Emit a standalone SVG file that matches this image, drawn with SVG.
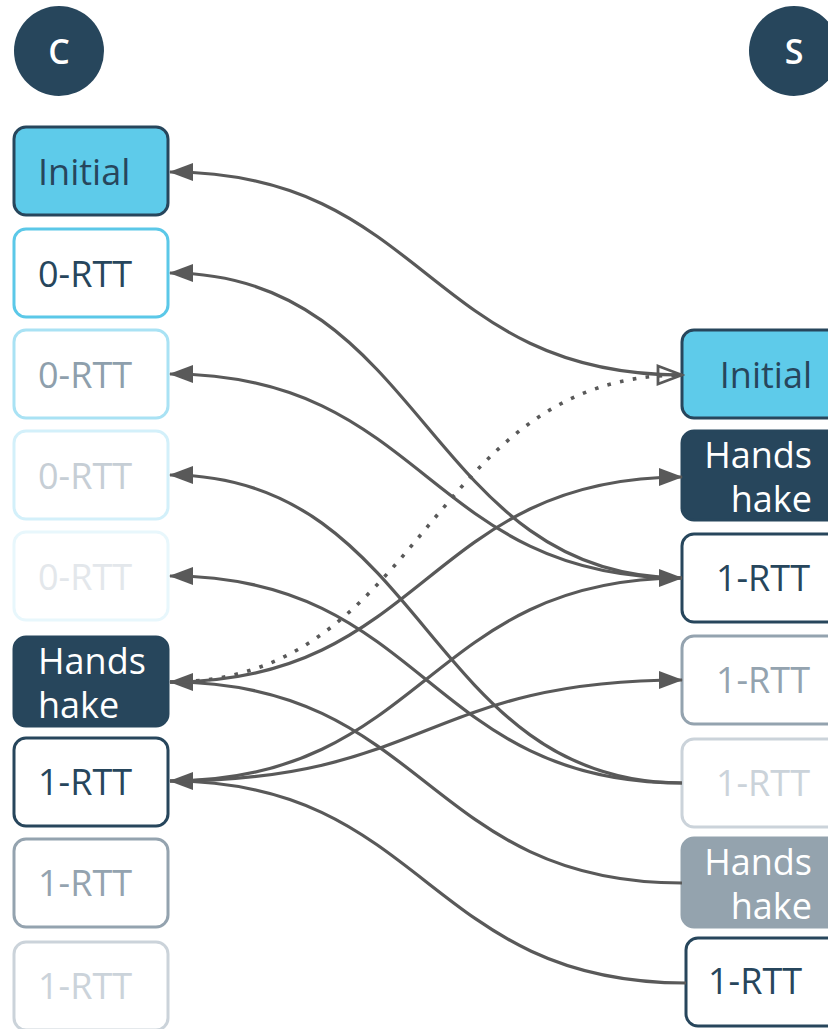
<svg xmlns="http://www.w3.org/2000/svg" width="828" height="1029" viewBox="0 0 828 1029">
  <style>
    .lbl { font-family: "Open Sans", "Noto Sans", sans-serif; font-size: 36px; }
    .ep { font-family: "Open Sans", "Noto Sans", sans-serif; font-size: 34px; font-weight: 600; fill: #ffffff; text-anchor: middle; }
    .box { stroke-width: 3; }
    .end { text-anchor: end; }
    .wire { fill: none; stroke: #595959; stroke-width: 3.2; }
    .dots { stroke-width: 3.6; stroke-dasharray: 3.6 9.4; }
  </style>
  <defs>
    <marker id="arrow" markerUnits="userSpaceOnUse" markerWidth="24" markerHeight="18" viewBox="0 0 24 18" refX="23" refY="9" orient="auto-start-reverse">
      <path d="M0,0 L24,9 L0,18 z" fill="#595959"/>
    </marker>
    <marker id="arrow-open" markerUnits="userSpaceOnUse" markerWidth="30" markerHeight="24" viewBox="0 0 30 24" refX="27" refY="12" orient="auto">
      <path d="M3,3 L27,12 L3,21 z" fill="none" stroke="#595959" stroke-width="2.8"/>
    </marker>
  </defs>

  <!-- endpoints -->
  <g id="client">
    <circle cx="59" cy="51" r="45" fill="#27465C"/>
    <text class="ep" x="59" y="64">C</text>
  </g>
  <g id="server">
    <circle cx="794" cy="51" r="45" fill="#27465C"/>
    <text class="ep" x="794" y="64">S</text>
  </g>

  <!-- client packets -->
  <g id="c-initial">
    <rect class="box" x="14" y="127" width="154" height="88" rx="12" fill="#5ECBEA" stroke="#27465C"/>
    <text class="lbl" x="38" y="185" fill="#27465C">Initial</text>
  </g>
  <g id="c-0rtt-1">
    <rect class="box" x="14" y="229" width="154" height="88" rx="12" fill="#ffffff" stroke="#5BC8E8"/>
    <text class="lbl" x="38" y="287" fill="#27465C">0-RTT</text>
  </g>
  <g id="c-0rtt-2">
    <rect class="box" x="14" y="330" width="154" height="88" rx="12" fill="#ffffff" stroke="#A9E2F4"/>
    <text class="lbl" x="38" y="388" fill="#8E9FAC">0-RTT</text>
  </g>
  <g id="c-0rtt-3">
    <rect class="box" x="14" y="431" width="154" height="88" rx="12" fill="#ffffff" stroke="#D3F0FA"/>
    <text class="lbl" x="38" y="489" fill="#C6CED5">0-RTT</text>
  </g>
  <g id="c-0rtt-4">
    <rect class="box" x="14" y="532" width="154" height="88" rx="12" fill="#ffffff" stroke="#E8F7FC"/>
    <text class="lbl" x="38" y="590" fill="#E3E7EB">0-RTT</text>
  </g>
  <g id="c-handshake">
    <rect class="box" x="14" y="637" width="154" height="89" rx="12" fill="#27465C" stroke="#27465C"/>
    <text class="lbl" x="38" y="674" fill="#ffffff">Hands</text>
    <text class="lbl" x="38" y="718" fill="#ffffff">hake</text>
  </g>
  <g id="c-1rtt-1">
    <rect class="box" x="14" y="738" width="154" height="88" rx="12" fill="#ffffff" stroke="#27465C"/>
    <text class="lbl" x="38" y="795" fill="#27465C">1-RTT</text>
  </g>
  <g id="c-1rtt-2">
    <rect class="box" x="14" y="839" width="154" height="88" rx="12" fill="#ffffff" stroke="#94A3AF"/>
    <text class="lbl" x="38" y="896" fill="#94A3AF">1-RTT</text>
  </g>
  <g id="c-1rtt-3">
    <rect class="box" x="14" y="942" width="154" height="88" rx="12" fill="#ffffff" stroke="#CBD3DA"/>
    <text class="lbl" x="38" y="999" fill="#CBD3DA">1-RTT</text>
  </g>

  <!-- server packets -->
  <g id="s-initial">
    <rect class="box" x="682" y="330" width="160" height="88" rx="12" fill="#5ECBEA" stroke="#27465C"/>
    <text class="lbl end" x="812" y="388" fill="#27465C">Initial</text>
  </g>
  <g id="s-handshake-1">
    <rect class="box" x="682" y="431" width="160" height="89" rx="12" fill="#27465C" stroke="#27465C"/>
    <text class="lbl end" x="812" y="468" fill="#ffffff">Hands</text>
    <text class="lbl end" x="812" y="512" fill="#ffffff">hake</text>
  </g>
  <g id="s-1rtt-1">
    <rect class="box" x="682" y="534" width="160" height="88" rx="12" fill="#ffffff" stroke="#27465C"/>
    <text class="lbl end" x="810" y="591" fill="#27465C">1-RTT</text>
  </g>
  <g id="s-1rtt-2">
    <rect class="box" x="682" y="636" width="160" height="88" rx="12" fill="#ffffff" stroke="#94A3AF"/>
    <text class="lbl end" x="810" y="693" fill="#94A3AF">1-RTT</text>
  </g>
  <g id="s-1rtt-3">
    <rect class="box" x="682" y="739" width="160" height="88" rx="12" fill="#ffffff" stroke="#CBD3DA"/>
    <text class="lbl end" x="810" y="796" fill="#CBD3DA">1-RTT</text>
  </g>
  <g id="s-handshake-2">
    <rect class="box" x="682" y="838" width="160" height="89" rx="12" fill="#94A3AE" stroke="#94A3AE"/>
    <text class="lbl end" x="812" y="875" fill="#ffffff">Hands</text>
    <text class="lbl end" x="812" y="919" fill="#ffffff">hake</text>
  </g>
  <g id="s-1rtt-4">
    <rect class="box" x="686" y="938" width="160" height="88" rx="12" fill="#ffffff" stroke="#27465C"/>
    <text class="lbl" x="708" y="994" fill="#27465C">1-RTT</text>
  </g>

  <!-- acknowledgement connectors -->
  <g id="connectors">
    <path class="wire" d="M170,172 C426,172 426,375 682,375" marker-start="url(#arrow)"/>
    <path class="wire" d="M170,273 C426,273 426,578 682,578" marker-start="url(#arrow)"/>
    <path class="wire" d="M170,374 C426,374 426,578 682,578" marker-start="url(#arrow)"/>
    <path class="wire" d="M170,475 C426,475 426,783 682,783" marker-start="url(#arrow)"/>
    <path class="wire" d="M170,576 C426,576 426,783 682,783" marker-start="url(#arrow)"/>
    <path class="wire dots" d="M170,682 C426,682 426,375 682,375" marker-end="url(#arrow-open)"/>
    <path class="wire" d="M170,682 C426,682 426,477 682,477" marker-start="url(#arrow)" marker-end="url(#arrow)"/>
    <path class="wire" d="M170,682 C426,682 426,883 682,883"/>
    <path class="wire" d="M170,781 C426,781 426,578 682,578" marker-start="url(#arrow)" marker-end="url(#arrow)"/>
    <path class="wire" d="M170,781 C426,781 426,680 682,680" marker-end="url(#arrow)"/>
    <path class="wire" d="M170,781 C426,781 426,983 686,983"/>
  </g>
</svg>
